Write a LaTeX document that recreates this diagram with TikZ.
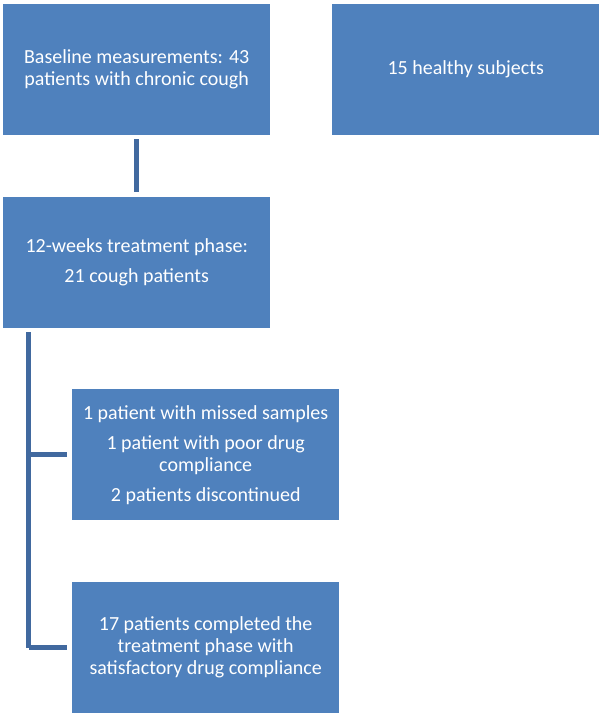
\documentclass[tikz,border=0pt]{standalone}
\usepackage{fontspec}
\setmainfont{Carlito}
\usepackage{tikz}
\usetikzlibrary{positioning}

\definecolor{boxblue}{HTML}{4F81BD}
\definecolor{linkblue}{HTML}{41699F}

\tikzset{
	box/.style={rectangle, fill=boxblue, text=white, inner sep=0, minimum width=267pt, minimum height=131pt, align=center, font=\fontsize{20}{22}\selectfont, anchor=north west},
	link/.style={draw=linkblue, line width=4.5pt}
}

\begin{document}
\begin{tikzpicture}[x=1pt, y=-1pt]
	\useasboundingbox (0,0) rectangle (600,718);
	\node[box] at(3,4) (base) {Baseline measurements: 43\\patients with chronic cough};
	\node[box] at(332,4) (healthy) {15 healthy subjects};
	\node[box] at(3,197) (treat) {12-weeks treatment phase:\\[8pt]21 cough patients};
	\node[box] at(72,389) (dropout) {1 patient with missed samples\\[8pt]1 patient with poor drug\\compliance\\[8pt]2 patients discontinued};
	\node[box] at(72,582) (done) {17 patients completed the\\treatment phase with\\satisfactory drug compliance};
	\draw[link] ([yshift=-4pt]base.south) -- ([yshift=5pt]treat.north);
	\coordinate (trunk) at(28.5,332);
	\draw[link] (trunk) -- (trunk |- done.west);
	\foreach \n in {dropout,done} {
		\draw[link] (trunk |- \n.west) -- ([xshift=-5pt]\n.west);
	};
\end{tikzpicture}
\end{document}
